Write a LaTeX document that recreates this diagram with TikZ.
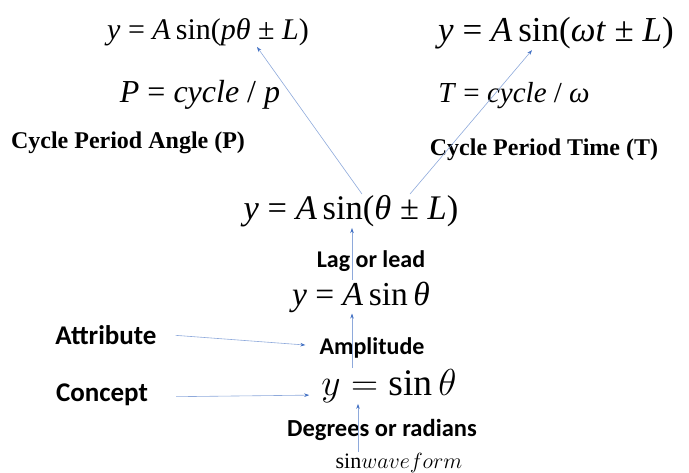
\documentclass[tikz,border=0pt]{standalone}
\usepackage{fix-cm}
\usepackage{fontspec}
\usepackage{tikz}
\usetikzlibrary{arrows.meta}
\setmainfont{Liberation Serif}
\newfontfamily\calib{Carlito}
\definecolor{okMavi}{HTML}{4472C4}
\definecolor{cizgiMavi}{HTML}{8EA9DB}
\newcommand{\dg}[1]{\textit{#1}}
\tikzset{
  formul/.style={inner sep=1pt},
  etiket/.style={inner sep=1pt,font=\calib\bfseries\fontsize{24}{26}\selectfont},
  baslik/.style={inner sep=1pt,font=\bfseries\fontsize{24}{26}\selectfont},
  ok/.style={cizgiMavi,line width=0.6pt,-{Stealth[length=5pt,width=3.5pt,color=okMavi]}}
}

\begin{document}
\begin{tikzpicture}[x=1pt,y=-1pt]
\useasboundingbox (0,0) rectangle (689,472);
% ust formuller
\node[formul,font=\fontsize{30}{32}\selectfont] (topL) at (208,32) {\dg{y} = \dg{A}\,sin(\dg{pθ} ± \dg{L})};
\node[formul,font=\fontsize{35}{37}\selectfont] (topR) at (556,33) {\dg{y} = \dg{A}\,sin(\dg{ωt} ± \dg{L})};
\node[formul,font=\fontsize{32}{34}\selectfont] (eqP) at (200,95) {\dg{P} = \dg{cycle} / \dg{p}};
\node[formul,font=\fontsize{29}{31}\selectfont] (eqT) at (514,96) {\dg{T} = \dg{cycle} / \dg{ω}};
\node[baslik] (capP) at (128,143) {Cycle Period Angle (P)};
\node[baslik] (capT) at (544,150) {Cycle Period Time (T)};
% orta
\node[formul,font=\fontsize{34.5}{36}\selectfont] (mid) at (351,211) {\dg{y} = \dg{A}\,sin(\dg{θ} ± \dg{L})};
\node[etiket] (lag) at (371,261) {Lag or lead};
\node[formul,font=\fontsize{33.5}{35}\selectfont] (amp) at (361,297) {\dg{y} = \dg{A}\,sin\,\dg{θ}};
\node[etiket,font=\calib\bfseries\fontsize{27}{29}\selectfont] (attr) at (106,335) {Attribute};
\node[etiket] (ampl) at (372,348) {Amplitude};
\node[etiket,font=\calib\bfseries\fontsize{27}{29}\selectfont] (conc) at (102,395) {Concept};
\node[formul,font=\fontsize{37.5}{39}\selectfont] (ysin) at (389,386) {$y=\sin\theta$};
\node[etiket,font=\calib\bfseries\fontsize{24.5}{26}\selectfont] (deg) at (382,430) {Degrees or radians};
\node[formul,font=\fontsize{22}{24}\selectfont] (sw) at (399,463) {$\mathrm{sin}waveform$};
% oklar
\draw[ok] ([xshift=-41pt]sw.north) -- ([xshift=-41pt]sw.north |- ysin.south);
\draw[ok] ([xshift=-9pt]amp.south |- ysin.north) -- ([xshift=-9pt]amp.south);
\draw[ok] ([xshift=-9pt]amp.north) -- ([xshift=-9pt]amp.north |- mid.south);
\draw[ok] ([xshift=11pt]mid.north) -- ([xshift=49pt]topL.south);
\draw[ok] ([xshift=59pt]mid.north) -- ([xshift=-24pt]topR.south);
\draw[ok,shorten <=18pt,shorten >=13pt] ([yshift=1pt]attr.east) -- ([yshift=2pt]ampl.west);
\draw[ok,shorten <=27pt,shorten >=11pt] ([yshift=-2pt]conc.east) -- (conc.east -| ysin.west);
\end{tikzpicture}
\end{document}
